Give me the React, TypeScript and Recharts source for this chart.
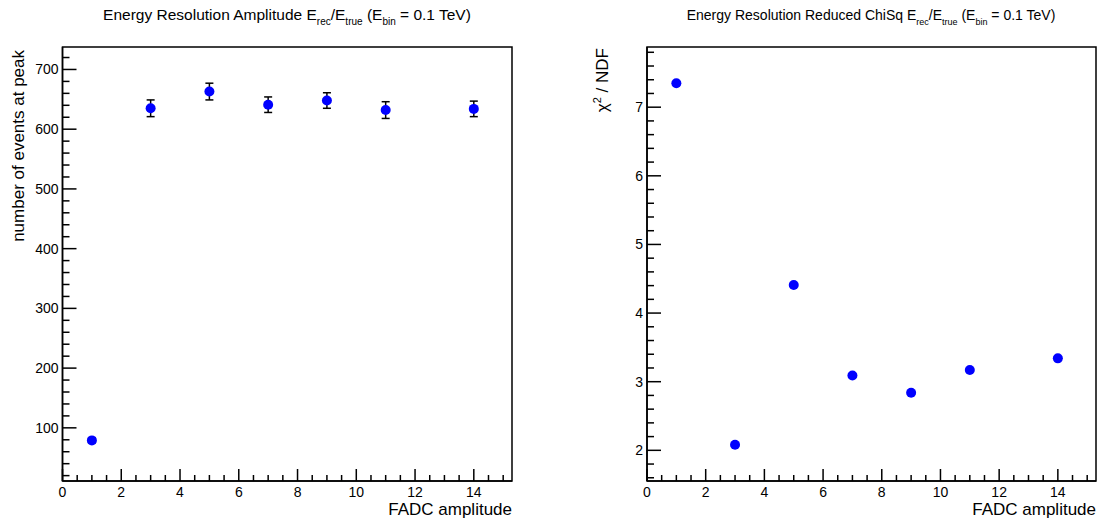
import { ScatterChart, Scatter, XAxis, YAxis, ErrorBar, ReferenceArea } from 'recharts'

// FADC amplitude points (both panels share them)
const amplitudes = [1, 3, 5, 7, 9, 11, 14]
const peakEvents = [79, 635, 663, 641, 648, 632, 634]
const peakErrors = [4, 14, 14, 13, 13, 14, 13]
const reducedChiSq = [7.35, 2.08, 4.41, 3.09, 2.84, 3.17, 3.34]

const xMajorTicks = [0, 2, 4, 6, 8, 10, 12, 14]
const peakMajorTicks = [100, 200, 300, 400, 500, 600, 700]
const chiMajorTicks = [2, 3, 4, 5, 6, 7]

const xDomain: [number, number] = [0, 15.3]
const peakDomain: [number, number] = [11, 737.6]
const chiDomain: [number, number] = [1.553, 7.877]

const FONT = '"Liberation Sans", Arial, Helvetica, sans-serif'
const LINE = 1.5

// minor ticks in between the labelled ones
function withMinors(lo: number, hi: number, step: number) {
  const out: number[] = []
  for (let v = lo; v <= hi + 1e-9; v += step) out.push(Math.round(v * 1000) / 1000)
  return out
}
const xTicks = withMinors(0, 15, 0.5)
const peakTicks = withMinors(20, 720, 20)
const chiTicks = withMinors(1.6, 7.8, 0.2)

const isMajor = (majors: number[], v: number) => majors.some((m) => Math.abs(m - v) < 1e-6)

const peakData = amplitudes.map((x, i) => ({ x, y: peakEvents[i], err: peakErrors[i] }))
const chiData = amplitudes.map((x, i) => ({ x, y: reducedChiSq[i] }))

function BottomTick(props: any) {
  const { x, y, payload } = props
  const major = isMajor(xMajorTicks, payload.value)
  return (
    <g>
      <line x1={x} y1={y} x2={x} y2={y - (major ? 12 : 6)} stroke="#000" strokeWidth={LINE} />
      {major && (
        <text x={x} y={y + 16} textAnchor="middle" fontSize={14} fontFamily={FONT} fill="#000">
          {payload.value}
        </text>
      )}
    </g>
  )
}

function makeLeftTick(majors: number[]) {
  return function LeftTick(props: any) {
    const { x, y, payload } = props
    const major = isMajor(majors, payload.value)
    return (
      <g>
        <line x1={x} y1={y} x2={x + (major ? 14 : 7)} y2={y} stroke="#000" strokeWidth={LINE} />
        {major && (
          <text x={x - 4} y={y + 5} textAnchor="end" fontSize={14} fontFamily={FONT} fill="#000">
            {payload.value}
          </text>
        )}
      </g>
    )
  }
}

const Dot = (props: any) => <circle cx={props.cx} cy={props.cy} r={5} fill="#0000ff" />
const Nothing = () => <g />

export default function App() {
  return (
    <div style={{ position: 'absolute', top: 0, left: 0, width: 1105, height: 523, background: '#fff' }}>
      <div style={{ position: 'absolute', left: 0, top: 0 }}>
        <ScatterChart width={552} height={523} margin={{ top: 47, right: 40, bottom: 0, left: 0 }}>
          <XAxis type="number" dataKey="x" domain={xDomain} ticks={xTicks} interval={0} allowDataOverflow
            tickSize={0} tickMargin={0} tick={BottomTick} height={42} axisLine={{ stroke: '#000', strokeWidth: LINE }} />
          <YAxis type="number" dataKey="y" domain={peakDomain} ticks={peakTicks} interval={0} allowDataOverflow
            tickSize={0} tickMargin={0} tick={makeLeftTick(peakMajorTicks)} width={62.5} axisLine={{ stroke: '#000', strokeWidth: LINE }} />
          <ReferenceArea x1={xDomain[0]} x2={xDomain[1]} y1={peakDomain[0]} y2={peakDomain[1]} fill="none" stroke="#000" strokeWidth={LINE} />
          <Scatter data={peakData} shape={Nothing} isAnimationActive={false}>
            <ErrorBar dataKey="err" direction="y" width={4} stroke="#000" strokeWidth={LINE} />
          </Scatter>
          <Scatter data={peakData} shape={Dot} isAnimationActive={false} />
        </ScatterChart>
      </div>
      <div style={{ position: 'absolute', left: 552, top: 0 }}>
        <ScatterChart width={553} height={523} margin={{ top: 47, right: 9, bottom: 0, left: 0 }}>
          <XAxis type="number" dataKey="x" domain={xDomain} ticks={xTicks} interval={0} allowDataOverflow
            tickSize={0} tickMargin={0} tick={BottomTick} height={42} axisLine={{ stroke: '#000', strokeWidth: LINE }} />
          <YAxis type="number" dataKey="y" domain={chiDomain} ticks={chiTicks} interval={0} allowDataOverflow
            tickSize={0} tickMargin={0} tick={makeLeftTick(chiMajorTicks)} width={95} axisLine={{ stroke: '#000', strokeWidth: LINE }} />
          <ReferenceArea x1={xDomain[0]} x2={xDomain[1]} y1={chiDomain[0]} y2={chiDomain[1]} fill="none" stroke="#000" strokeWidth={LINE} />
          <Scatter data={chiData} shape={Dot} isAnimationActive={false} />
        </ScatterChart>
      </div>
      <svg width={1105} height={523} style={{ position: 'absolute', left: 0, top: 0, pointerEvents: 'none' }}
        fontFamily={FONT} fill="#000">
        <text x={287} y={20} textAnchor="middle" fontSize={15.5}>
          Energy Resolution Amplitude E<tspan dy={5} fontSize={10}>rec</tspan>
          <tspan dy={-5}>/E</tspan><tspan dy={5} fontSize={10}>true</tspan>
          <tspan dy={-5}>{' (E'}</tspan><tspan dy={5} fontSize={10}>bin</tspan>
          <tspan dy={-5}>{' = 0.1 TeV)'}</tspan>
        </text>
        <text x={871} y={20} textAnchor="middle" fontSize={14}>
          Energy Resolution Reduced ChiSq E<tspan dy={5} fontSize={9}>rec</tspan>
          <tspan dy={-5}>/E</tspan><tspan dy={5} fontSize={9}>true</tspan>
          <tspan dy={-5}>{' (E'}</tspan><tspan dy={5} fontSize={9}>bin</tspan>
          <tspan dy={-5}>{' = 0.1 TeV)'}</tspan>
        </text>
        <text transform="rotate(-90)" x={-50} y={24} textAnchor="end" fontSize={17}>number of events at peak</text>
        <text transform="rotate(-90)" x={-48} y={608} textAnchor="end" fontSize={17}>
          χ<tspan dy={-7} fontSize={11}>2</tspan><tspan dy={7}>{' / NDF'}</tspan>
        </text>
        <text x={512} y={515} textAnchor="end" fontSize={17}>FADC amplitude</text>
        <text x={1096} y={515} textAnchor="end" fontSize={17}>FADC amplitude</text>
      </svg>
    </div>
  )
}
